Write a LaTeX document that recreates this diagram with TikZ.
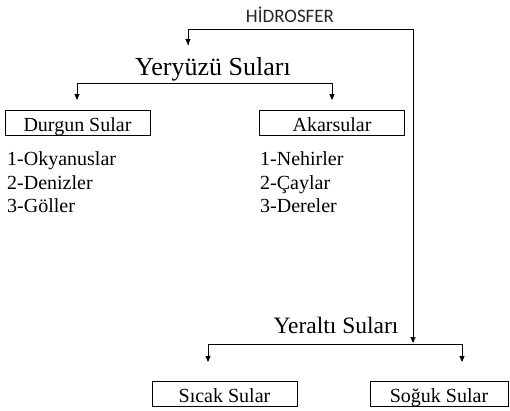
\documentclass[tikz,border=0pt]{standalone}
\usepackage{fontspec}
\setmainfont{Liberation Serif}
\newfontfamily\hfont{Carlito}
\usetikzlibrary{arrows.meta}

\begin{document}
\begin{tikzpicture}[x=1pt,y=-1pt,
  ok/.style={-{Triangle[length=6pt,width=5pt]}, line width=0.9pt},
  kutu/.style={draw, line width=0.8pt, minimum width=145pt, minimum height=25pt, inner sep=0pt,
    text height=17pt, text depth=0pt, font=\fontsize{20}{20}\selectfont},
  liste/.style={anchor=base west, inner sep=0pt, font=\fontsize{20}{20}\selectfont},
  baslik/.style={anchor=base, inner sep=0pt}]
  \useasboundingbox (0,0) rectangle (510,410);

  \node[font=\hfont\fontsize{19}{19}\selectfont, text=black!85] (H) at (290,15) {HİDROSFER};

  % yeryuzu
  \node[baslik, font=\fontsize{26}{26}\selectfont] (Y) at (213,75) {Yeryüzü Suları};
  \node[kutu] (D) at (77.5,122.5) {Durgun Sular};
  \node[kutu] (A) at (332,122.5) {Akarsular};

  \node[liste] (d1) at (7,165) {1-Okyanuslar};
  \node[liste] (d2) at (7,189) {2-Denizler};
  \node[liste] (d3) at (7,212) {3-Göller};
  \node[liste] (a1) at (260,165) {1-Nehirler};
  \node[liste] (a2) at (260,189) {2-Çaylar};
  \node[liste] (a3) at (260,212) {3-Dereler};

  % yeralti
  \node[baslik, font=\fontsize{23.5}{24}\selectfont] (U) at (336,333) {Yeraltı Suları};
  \node[kutu] (S) at (224.5,393.5) {Sıcak Sular};
  \node[kutu, minimum width=138pt] (G) at (439,393.5) {Soğuk Sular};

  % baglantilar
  \coordinate (h1) at (188,29);
  \coordinate (h2) at (413,29);
  \coordinate (h3) at (188,45);
  \coordinate (h4) at (413,343);
  \draw[ok] (h1 |- h3) -- (h1) -- (h2) -- (h4);
  \draw[ok] (h1) -- (h3);

  \coordinate (y1) at (77,83);
  \coordinate (y2) at (332,83);
  \draw[ok] (y1) -- (y2) -- (y2 |- 0,100);
  \draw[ok] (y2) -- (y1) -- (y1 |- 0,100);

  \coordinate (u1) at (208,344);
  \coordinate (u2) at (462,344);
  \draw[ok] (u2) -- (u1) -- (u1 |- 0,362);
  \draw[ok] (u1) -- (u2) -- (u2 |- 0,362);
\end{tikzpicture}
\end{document}
